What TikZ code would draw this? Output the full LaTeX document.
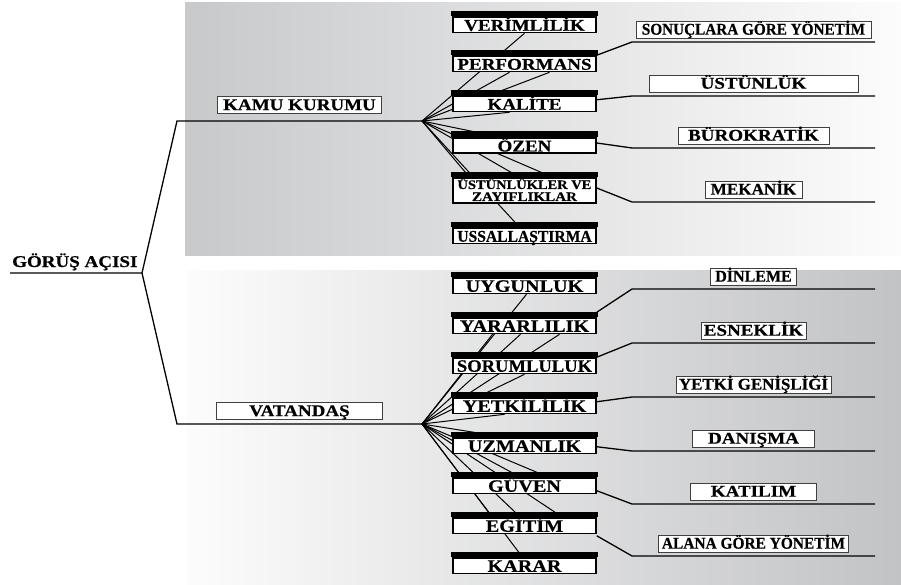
\documentclass[tikz,border=0pt]{standalone}
\usepackage{fontspec}
\setmainfont{Liberation Serif}[FakeStretch=1.16, BoldFeatures={FakeBold=0.6}]
\usepackage{tikz}
\usetikzlibrary{positioning, calc}
\definecolor{panelDark}{HTML}{C8C9CB}
\definecolor{panelDeep}{HTML}{C2C3C5}
\definecolor{panelLight}{HTML}{FCFCFC}
\pgfdeclarelayer{back}
\pgfsetlayers{back,main}
\newcommand{\boxFont}{\fontsize{16.4}{17}\selectfont\bfseries}
\newcommand{\bigBoxFont}{\fontsize{17.4}{18}\selectfont\bfseries}
\newcommand{\smallBoxFont}{\fontsize{13}{12}\selectfont\bfseries}
\newcommand{\squeeze}[2]{\scalebox{#1}[1]{#2}}
\tikzset{
    trunk/.style={line width=1.3pt},
    spoke/.style={line width=1pt},
    branch/.style={line width=1.3pt},
    fanbox/.style={draw, fill=white, line width=1.6pt, minimum width=143pt, inner xsep=0pt, inner ysep=0.25pt, text height=13.5pt, text depth=1.5pt, font=\boxFont},
    outlab/.style={draw=black!75, fill=white, line width=0.7pt, inner xsep=0pt, inner ysep=1pt, text height=12.5pt, text depth=2.5pt, font=\boxFont},
    rootlab/.style={inner sep=0pt, font=\boxFont},
}
\newcommand{\fanBox}[4][]{
    \node[fanbox, #1] (#2) at (#3) {#4};
    \fill ([xshift=-0.8pt]#2.north west) rectangle ([xshift=0.8pt, yshift=5.5pt]#2.north east);
}
\newcommand{\drawBranch}[4]{
    \draw[branch] (#1) -- ([xshift=-243pt]#2) -- node[outlab, above=3.5pt, minimum width=#4] {#3} (#2);
}

\begin{document}
\begin{tikzpicture}[x=1pt, y=-1pt]
    \useasboundingbox (0,0) rectangle (901,585);

    % panels
    \begin{pgfonlayer}{back}
        \shade[left color=panelDark, right color=panelLight] (185,3) rectangle (901,255);
        \shade[left color=panelLight, right color=panelDeep] (187,270) rectangle (901,585);
    \end{pgfonlayer}

    % trunk
    \coordinate (gorTip) at (142,273);
    \coordinate (kamuStart) at (177,121);
    \coordinate (kamuHub) at (422,121);
    \coordinate (vatStart) at (177,424);
    \coordinate (vatHub) at (422,424);
    \node[rootlab, anchor=base west] (gor) at (12,267) {GÖRÜŞ AÇISI};
    \draw[trunk] ([xshift=-2pt, yshift=-6pt]gor.base west) -- (gorTip) -- (kamuStart) -- node[outlab, above=7pt, minimum width=164pt] (kamu) {KAMU KURUMU} (kamuHub);
    \draw[trunk] (gorTip) -- (vatStart) -- node[outlab, above=4pt, minimum width=166pt] (vat) {VATANDAŞ} (vatHub);

    % kamu kurumu boxes
    \fanBox{verim}{524.5,24.75}{VERİMLİLİK}
    \fanBox{perf}{524.5,63.75}{PERFORMANS}
    \fanBox{kalite}{524.5,103.75}{KALİTE}
    \fanBox{ozen}{524.5,145.5}{ÖZEN}
    \fanBox[font=\smallBoxFont, align=center, text height=22.5pt, text depth=1.5pt, inner ysep=0.5pt]{ustun}{524.5,190.5}{\squeeze{0.96}{ÜSTÜNLÜKLER VE}\\ZAYIFLIKLAR}
    \fanBox{ussal}{524.5,235.75}{\squeeze{0.82}{USSALLAŞTIRMA}}

    % vatandas boxes
    \fanBox[font=\bigBoxFont]{uygun}{524.5,285.75}{UYGUNLUK}
    \fanBox[font=\bigBoxFont]{yarar}{524.5,325.75}{YARARLILIK}
    \fanBox[font=\bigBoxFont]{sorum}{524.5,365.75}{\squeeze{0.92}{SORUMLULUK}}
    \fanBox[font=\bigBoxFont]{yetki}{524.5,405.75}{YETKİLİLİK}
    \fanBox[font=\bigBoxFont]{uzman}{524.5,445.75}{UZMANLIK}
    \fanBox[font=\bigBoxFont]{guven}{524.5,485.75}{GÜVEN}
    \fanBox[font=\bigBoxFont]{egitim}{524.5,525.75}{EĞİTİM}
    \fanBox[font=\bigBoxFont]{karar}{524.5,565.75}{KARAR}

    % spokes behind the boxes
    \begin{pgfonlayer}{back}
        \draw[spoke] (kamuHub) -- (verim.south);
        \draw[spoke] (kamuHub) -- ([xshift=-15pt]perf.south);
        \draw[spoke] (kamuHub) -- ([xshift=25pt]perf.south);
        \draw[spoke] (kamuHub) -- ([xshift=-15pt]kalite.south);
        \draw[spoke] (kamuHub) -- ([xshift=-25pt]ozen.north);
        \draw[spoke] (kamuHub) -- ([xshift=-55pt]ustun.north);
        \draw[spoke] (kamuHub) -- ([xshift=-5pt]ustun.north);
        \draw[spoke] (kamuHub) -- ([xshift=28pt]ustun.north);
        \draw[spoke] (kamuHub) -- ([xshift=-5pt]ussal.north);

        \draw[spoke] (vatHub) -- ([xshift=2pt]uygun.south);
        \draw[spoke] (vatHub) -- ([xshift=-32pt]yarar.south);
        \draw[spoke] (vatHub) -- ([xshift=-4pt]yarar.south);
        \draw[spoke] (vatHub) -- ([xshift=35pt]yarar.south);
        \draw[spoke] (vatHub) -- (sorum.south);
        \draw[spoke] (vatHub) -- ([xshift=-20pt]yetki.south);
        \draw[spoke] (vatHub) -- ([xshift=-20pt]uzman.north);
        \draw[spoke] (vatHub) -- ([xshift=-4pt]guven.north);
        \draw[spoke] (vatHub) -- ([xshift=24pt]guven.north);
        \draw[spoke] (vatHub) -- ([xshift=-32pt]egitim.north);
        \draw[spoke] (vatHub) -- ([xshift=-4pt]egitim.north);
        \draw[spoke] (vatHub) -- ([xshift=38pt]egitim.north);
        \draw[spoke] (vatHub) -- ([xshift=-2pt]karar.north);
    \end{pgfonlayer}

    % branches
    \coordinate (sonEnd) at (875,42);
    \coordinate (ustEnd) at (875,96);
    \coordinate (burEnd) at (875,148);
    \coordinate (mekEnd) at (875,202);
    \coordinate (dinEnd) at (875,289);
    \coordinate (esnEnd) at (875,343);
    \coordinate (yetEnd) at (875,397);
    \coordinate (danEnd) at (875,451);
    \coordinate (katEnd) at (875,504);
    \coordinate (alaEnd) at (875,556);

    \drawBranch{perf.north east}{sonEnd}{\squeeze{0.8}{SONUÇLARA GÖRE YÖNETİM}}{235pt}
    \drawBranch{[yshift=4pt]kalite.east}{ustEnd}{ÜSTÜNLÜK}{209pt}
    \drawBranch{[yshift=2.5pt]ozen.east}{burEnd}{BÜROKRATİK}{151pt}
    \drawBranch{[yshift=2.5pt]ustun.east}{mekEnd}{\squeeze{0.9}{MEKANİK}}{97pt}
    \drawBranch{[yshift=5pt]yarar.north east}{dinEnd}{\squeeze{0.84}{DİNLEME}}{86pt}
    \drawBranch{sorum.north east}{esnEnd}{ESNEKLİK}{105pt}
    \drawBranch{[yshift=4pt]yetki.east}{yetEnd}{\squeeze{0.89}{YETKİ GENİŞLİĞİ}}{155pt}
    \drawBranch{[yshift=-1pt]uzman.east}{danEnd}{DANIŞMA}{122pt}
    \drawBranch{[yshift=-5pt]guven.east}{katEnd}{KATILIM}{126pt}
    \drawBranch{[yshift=-1.5pt]egitim.south east}{alaEnd}{\squeeze{0.81}{ALANA GÖRE YÖNETİM}}{190pt}

\end{tikzpicture}
\end{document}
